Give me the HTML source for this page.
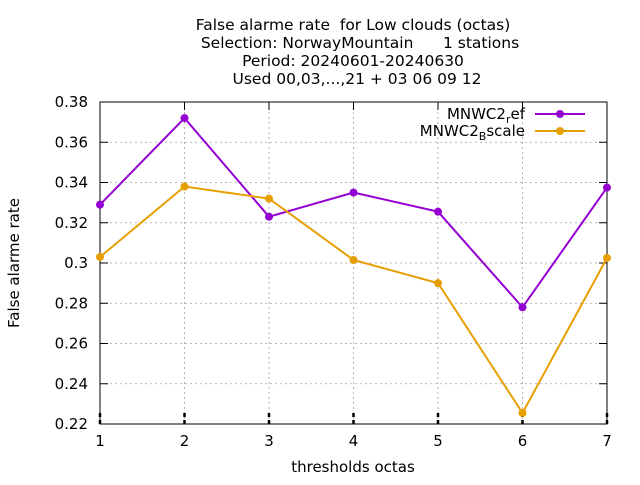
<!DOCTYPE html>
<html><head><meta charset="utf-8"><style>
body{margin:0;background:#fff}
text{font-family:"DejaVu Sans",sans-serif;fill:#000;white-space:pre}
</style></head><body>
<svg id="chart" width="640" height="480" xmlns="http://www.w3.org/2000/svg" xml:space="preserve">
<g font-size="15.5" text-anchor="middle">
<text x="353" y="30">False alarme rate  for Low clouds (octas)</text>
<text x="360" y="48">Selection: NorwayMountain      1 stations</text>
<text x="353" y="66">Period: 20240601-20240630</text>
<text x="357" y="84">Used 00,03,...,21 + 03 06 09 12</text>
</g>
<g id="grid"></g>
<g id="axes"></g>
<g id="series"></g>
<text x="19" y="263" font-size="15" text-anchor="middle" transform="rotate(-90 19 263)">False alarme rate</text>
<text x="353" y="472" font-size="15" text-anchor="middle">thresholds octas</text>
<g font-size="15" text-anchor="end">
<g>
<text x="525" y="119">MNWC2<tspan font-size="11" dy="4">r</tspan><tspan dy="-4">ef</tspan></text>
<line x1="535" y1="114" x2="585" y2="114" stroke="#9400d3" stroke-width="2"/>
<circle cx="560" cy="114" r="4" fill="#9400d3"/>
</g>
<g>
<text x="525" y="136">MNWC2<tspan font-size="11" dy="4">B</tspan><tspan dy="-4">scale</tspan></text>
<line x1="535" y1="131" x2="585" y2="131" stroke="#e69f00" stroke-width="2"/>
<circle cx="560" cy="131" r="4" fill="#e69f00"/>
</g>
</g>
</svg>
<script>
const categories=[1,2,3,4,5,6,7];
const refValues=[0.329,0.372,0.323,0.335,0.3255,0.278,0.3375];
const bscaleValues=[0.303,0.338,0.332,0.3015,0.290,0.2255,0.3025];
const yTicks=[0.22,0.24,0.26,0.28,0.30,0.32,0.34,0.36,0.38];
const yTickLabels=["0.22","0.24","0.26","0.28","0.3","0.32","0.34","0.36","0.38"];
const L=100,R=607,T=102,B=424;
const xs=v=>L+(v-1)/(7-1)*(R-L);
const ys=v=>B-(v-0.22)/(0.38-0.22)*(B-T);
const NS="http://www.w3.org/2000/svg";
function mk(tag,attrs,parent){const e=document.createElementNS(NS,tag);for(const k in attrs)e.setAttribute(k,attrs[k]);parent.appendChild(e);return e;}
const grid=document.getElementById('grid'),axes=document.getElementById('axes'),series=document.getElementById('series');
yTicks.forEach((t,i)=>{const y=ys(t);
 const g=mk('line',{x1:L,x2:R,y1:y,y2:y,stroke:'#a0a0a0','stroke-width':0.8,'stroke-dasharray':'2,3'},grid);
 
 
 mk('line',{x1:L,x2:L+8,y1:y,y2:y,stroke:'#000'},axes);
 mk('line',{x1:R,x2:R-8,y1:y,y2:y,stroke:'#000'},axes);
 const tx=mk('text',{x:L-12,y:y+5,'font-size':15,'text-anchor':'end'},axes);tx.textContent=yTickLabels[i];
 
 
});
categories.forEach(c=>{const x=xs(c);
 const g=mk('line',{x1:x,x2:x,y1:T,y2:B,stroke:'#a0a0a0','stroke-width':0.8,'stroke-dasharray':'2,3'},grid);
 
 
 mk('line',{x1:x,x2:x,y1:B,y2:B-14,stroke:'#000','stroke-width':2.5,'stroke-dasharray':'4,3'},axes);
 mk('line',{x1:x,x2:x,y1:T,y2:T+8,stroke:'#000'},axes);
 const tx=mk('text',{x:x,y:B+22,'font-size':15,'text-anchor':'middle'},axes);tx.textContent=c;
 
 
});
const fr=mk('rect',{x:L,y:T,width:R-L,height:B-T,fill:'none',stroke:'#000'},axes);


function drawSeries(vals,color,name){
 const pl=mk('polyline',{points:vals.map((v,i)=>xs(categories[i])+','+ys(v)).join(' '),fill:'none',stroke:color,'stroke-width':2},series);
 
 
 vals.forEach((v,i)=>{const p=mk('circle',{cx:xs(categories[i]),cy:ys(v),r:4,fill:color},series);
  
  });
}
drawSeries(refValues,'#9400d3','ref');
drawSeries(bscaleValues,'#e69f00','bscale');
</script>
</body></html>
